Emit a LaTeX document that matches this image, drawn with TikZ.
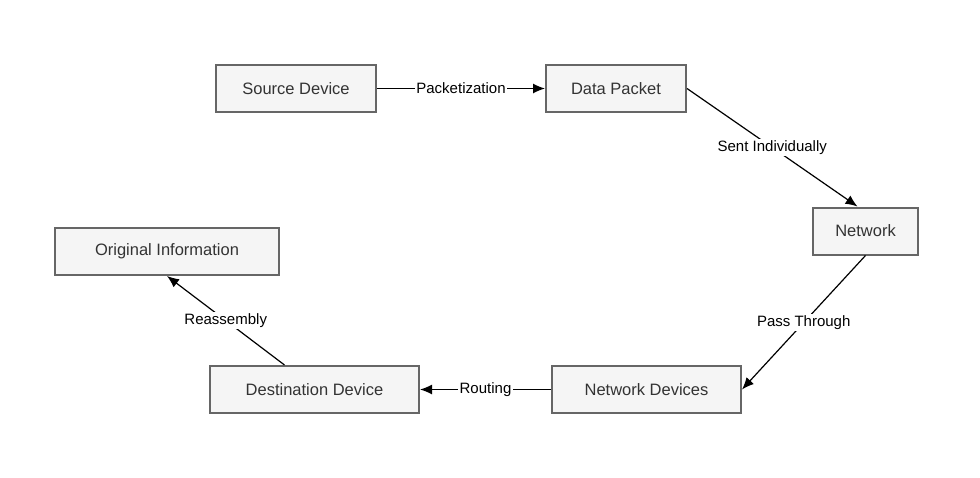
\documentclass[tikz,border=0pt]{standalone}
\usepackage{fontspec}
\setmainfont{Liberation Sans}
\usetikzlibrary{arrows.meta}
\definecolor{boxfill}{HTML}{F5F5F5}
\definecolor{boxline}{HTML}{666666}
\definecolor{boxtext}{HTML}{333333}
\begin{document}
\begin{tikzpicture}[x = 1pt, y = -1pt, line width = 1.2pt,
								block/.style = {rectangle, draw = boxline, line width = 2pt,
								fill = boxfill, text = boxtext, minimum height = 47pt,
								font = \fontsize{16.5}{18}\selectfont},
								lbl/.style = {fill = white, inner sep = 1.5pt,
								font = \fontsize{15}{17}\selectfont},
								link/.style = {-{Latex[length = 12pt, width = 10pt]}}]

				\useasboundingbox (0,0) rectangle (980,477);

				\node [block, minimum width = 160pt] (n_1) at (296,88.5) {Source Device};
				\node [block, minimum width = 140pt] (n_2) at (616,88.5) {Data Packet};
				\node [block, minimum width = 105pt] (n_3) at (865.5,231) {Network};
				\node [block, minimum width = 189pt] (n_4) at (646.5,389.5) {Network Devices};
				\node [block, minimum width = 209pt] (n_5) at (314.5,389.5) {Destination Device};
				\node [block, minimum width = 224pt] (n_6) at (167,251.5) {Original Information};

				\draw [link] (n_1) -- node [lbl] {Packetization} (n_2);
				\draw [link] (n_2.east) -- node [lbl] {Sent Individually} ([xshift = -8pt]n_3.north);
				\draw [link] (n_3.south) -- node [lbl] {Pass Through} (n_4.east);
				\draw [link] (n_4) -- node [lbl] {Routing} (n_5);
				\draw [link] ([xshift = -30pt]n_5.north) -- node [lbl] {Reassembly} (n_6.south);
			\end{tikzpicture}
\end{document}
